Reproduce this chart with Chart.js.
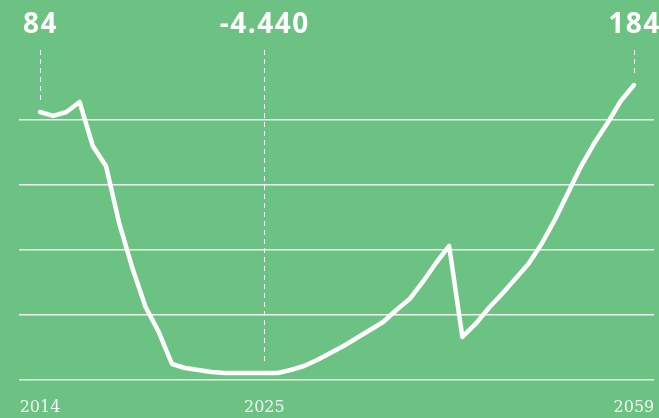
<!DOCTYPE html>
<html lang="en">
<head>
<meta charset="utf-8">
<title>Line chart</title>
<script src="https://cdn.jsdelivr.net/npm/chart.js@4.4.1/dist/chart.umd.min.js"></script>
<style>
  html, body { margin: 0; padding: 0; background: #6cc283; }
  .wrap { width: 659px; height: 418px; position: relative; }
</style>
</head>
<body>
<div class="wrap"><canvas id="chart"></canvas></div>
<script>
// one point per period (gridlines every 1000)
const values = [
  4123, 4062, 4123, 4277, 3600, 3292, 2415, 1723, 1123, 738,
  246, 185, 154, 123, 108, 108, 108, 108, 108, 154,
  215, 308, 415, 523, 646, 769, 892, 1077, 1246, 1508,
  1800, 2062, 662, 862, 1108, 1323, 1554, 1785, 2092, 2462,
  2877, 3292, 3646, 3954, 4292, 4538
];
const tickIdx = [0, 17, 45];
const tickText = ['2014', '2025', '2059'];
const calloutIdx = [0, 17, 45];
const calloutText = ['84', '-4.440', '184'];
const gridValues = [0, 1000, 2000, 3000, 4000];

const callouts = {
  id: 'callouts',
  afterDraw(chart) {
    const ctx = chart.ctx;
    const xs = chart.scales.x, ys = chart.scales.y;
    ctx.save();
    calloutIdx.forEach((idx, k) => {
      const x = xs.getPixelForValue(idx);
      const yp = ys.getPixelForValue(values[idx]);
      ctx.strokeStyle = 'rgba(255,255,255,0.9)';
      ctx.lineWidth = 1;
      ctx.setLineDash([5, 4]);
      ctx.beginPath();
      ctx.moveTo(Math.round(x) + 0.5, 50);
      ctx.lineTo(Math.round(x) + 0.5, yp - 11);
      ctx.stroke();
      ctx.setLineDash([]);
      ctx.fillStyle = '#ffffff';
      ctx.font = 'bold 28px "Open Sans"';
      ctx.letterSpacing = '1.5px';
      ctx.textAlign = 'center';
      ctx.textBaseline = 'middle';
      ctx.fillText(calloutText[k], x + 0.5, 25);
    });
    ctx.restore();
  }
};

new Chart(document.getElementById('chart'), {
  type: 'line',
  data: {
    datasets: [{
      data: values.map((v, i) => ({ x: i, y: v })),
      borderColor: '#ffffff',
      borderWidth: 4.5,
      pointRadius: 0,
      tension: 0,
      borderCapStyle: 'round',
      borderJoinStyle: 'round',
      clip: false
    }]
  },
  options: {
    responsive: true,
    maintainAspectRatio: false,
    animation: false,
    layout: { padding: { left: 19, right: 5, top: 55, bottom: 0 } },
    plugins: { legend: { display: false }, tooltip: { enabled: false } },
    scales: {
      x: {
        type: 'linear',
        min: -1.59,
        max: 46.52,
        grid: { display: false, drawTicks: false },
        border: { display: false },
        afterBuildTicks: (s) => { s.ticks = tickIdx.map(v => ({ value: v })); },
        afterFit: (s) => { s.height = 38; s.paddingLeft = 0; s.paddingRight = 0; },
        ticks: {
          autoSkip: false,
          maxRotation: 0,
          padding: 18,
          color: 'rgba(255,255,255,0.9)',
          font: { family: '"DejaVu Serif"', size: 16 },
          callback: (v) => tickText[tickIdx.indexOf(v)]
        }
      },
      y: {
        min: 0,
        max: 5000,
        afterBuildTicks: (s) => { s.ticks = gridValues.map(v => ({ value: v })); },
        afterFit: (s) => { s.width = 0; },
        grid: { color: 'rgba(255,255,255,0.85)', lineWidth: 1.5, drawTicks: false },
        border: { display: false },
        ticks: { display: false }
      }
    }
  },
  plugins: [callouts]
});
</script>
</body>
</html>
